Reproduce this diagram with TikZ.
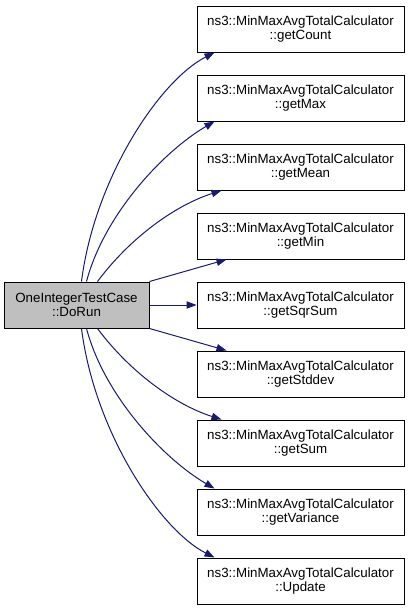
\documentclass[tikz,border=0pt]{standalone}
\usepackage{fontspec}
\setmainfont{Liberation Sans}
\usetikzlibrary{arrows.meta,calc}
\definecolor{edgeblue}{RGB}{25,25,112}
\definecolor{nodegray}{RGB}{191,191,191}
\tikzset{
  fnbox/.style={draw=black, line width=0.75pt, fill=white, rectangle, inner sep=0pt,
    minimum width=155.25pt, minimum height=34.5pt, align=center,
    font=\fontsize{10pt}{10pt}\selectfont},
  srcbox/.style={fnbox, fill=nodegray, minimum width=108.75pt},
  call/.style={draw=edgeblue, line width=0.75pt,
    -{Triangle[length=7.5pt,width=5.5pt,fill=edgeblue]}}
}
\begin{document}
\begin{tikzpicture}[x=0.75pt,y=-0.75pt]
\useasboundingbox (0,0) rectangle (411,611);
\node[srcbox] (l) at (76.5,305) {OneIntegerTestCase\\::DoRun};
\node[fnbox] (n1) at (300.5,29)  {ns3::MinMaxAvgTotalCalculator\\::getCount};
\node[fnbox] (n2) at (300.5,98)  {ns3::MinMaxAvgTotalCalculator\\::getMax};
\node[fnbox] (n3) at (300.5,167) {ns3::MinMaxAvgTotalCalculator\\::getMean};
\node[fnbox] (n4) at (300.5,236) {ns3::MinMaxAvgTotalCalculator\\::getMin};
\node[fnbox] (n5) at (300.5,305) {ns3::MinMaxAvgTotalCalculator\\::getSqrSum};
\node[fnbox] (n6) at (300.5,374) {ns3::MinMaxAvgTotalCalculator\\::getStddev};
\node[fnbox] (n7) at (300.5,443) {ns3::MinMaxAvgTotalCalculator\\::getSum};
\node[fnbox] (n8) at (300.5,512) {ns3::MinMaxAvgTotalCalculator\\::getVariance};
\node[fnbox] (n9) at (300.5,581) {ns3::MinMaxAvgTotalCalculator\\::Update};
% upper calls
\draw[call] ($(l.north west)+(78,0)$) .. controls +(13,-103) and +(-55,28) .. ($(n1.south west)+(18,0)$);
\draw[call] ($(l.north west)+(83,0)$) .. controls +(18,-68) and +(-50,29) .. ($(n2.south west)+(18,0)$);
\draw[call] ($(l.north west)+(94,0)$) .. controls +(32,-43) and +(-47,15) .. ($(n3.south west)+(25,0)$);
\draw[call] (l.north east) -- ($(n4.south west)+(30,0)$);
\draw[call] (l.east) -- (n5.west);
% lower calls
\draw[call] (l.south east) -- ($(n6.north west)+(30,0)$);
\draw[call] ($(l.south west)+(94,0)$) .. controls +(32,43) and +(-47,-15) .. ($(n7.north west)+(25,0)$);
\draw[call] ($(l.south west)+(83,0)$) .. controls +(18,68) and +(-50,-29) .. ($(n8.north west)+(18,0)$);
\draw[call] ($(l.south west)+(78,0)$) .. controls +(13,103) and +(-55,-28) .. ($(n9.north west)+(18,0)$);
\end{tikzpicture}
\end{document}
